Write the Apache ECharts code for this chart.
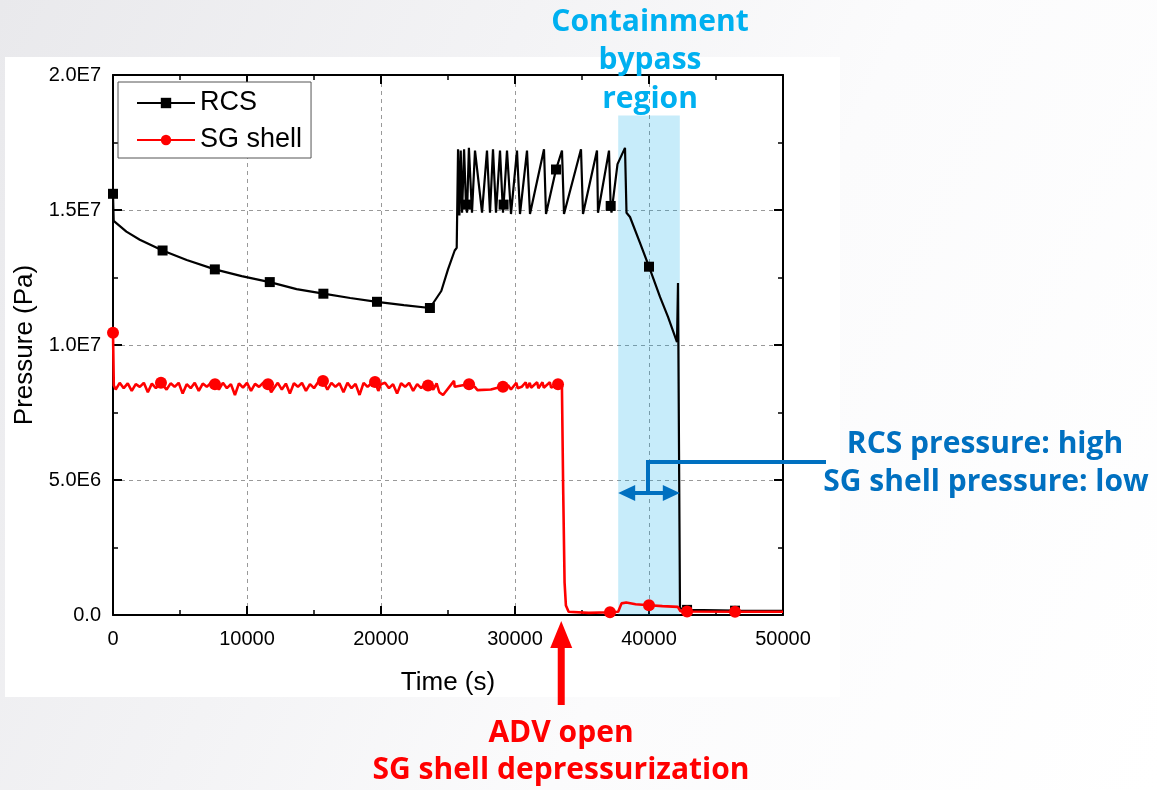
<!DOCTYPE html>
<html>
<head>
<meta charset="utf-8">
<script src="https://cdn.jsdelivr.net/npm/echarts@6/dist/echarts.min.js"></script>
<style>
html,body{margin:0;padding:0;}
body{width:1157px;height:790px;overflow:hidden;position:relative;
 background:linear-gradient(115deg,#e9e9ec 0%,#f3f3f5 35%,#fbfbfc 60%,#ffffff 100%);}
#panel{position:absolute;left:5px;top:57px;width:835px;height:640px;background:#fff;}
#chart{position:absolute;left:0;top:0;width:1157px;height:790px;}
</style>
</head>
<body>
<div id="panel"></div>
<div id="chart"></div>
<script>
// time (s), pressure (x1e6 Pa)
var rcsPoints = [
 [0,15.6],[50,14.6],[1000,14.2],[2000,13.9],[3700,13.5],[5500,13.15],[7600,12.8],[9600,12.55],
 [11700,12.33],[13700,12.07],[15700,11.9],[17700,11.74],[19700,11.6],[21700,11.48],[23650,11.37],
 [24500,12.0],[25000,12.8],[25500,13.5],[25650,13.6],[25750,17.25],[25850,14.8],[25950,17.2],
 [26050,14.9],[26200,17.25],[26340,15.2],[26420,14.9],[26560,17.3],[26790,14.9],[27015,17.2],
 [27540,14.9],[27910,17.2],[28134,14.9],[28358,17.25],[28582,14.9],[28881,17.2],[29104,14.9],
 [29150,15.2],[29403,17.2],[29701,14.85],[30149,17.2],[30373,14.85],[30896,17.2],[31119,14.85],
 [32164,17.25],[32313,14.85],[33060,16.5],[33507,17.2],[33657,14.85],[34925,17.25],[35075,14.85],
 [36119,17.2],[36194,14.9],[37015,17.2],[37140,15.15],[37200,14.9],[37650,16.7],[38209,17.3],
 [38321,14.9],[38582,14.74],[39328,13.78],[40000,12.9],[40821,11.78],[41418,11.04],[42090,10.11],
 [42164,12.3],[42313,0.25],[42400,0.22],[42840,0.19],[46420,0.16],[50000,0.15]
];
var rcsMarkTimes = [0,3700,7600,11700,15700,19700,23650,26340,29150,33060,37140,40000,42840,46420];

var sgPoints = [
 [0,10.45],[60,8.5],[200,8.35],[500,8.6],[800,8.4],[1100,8.58],[1400,8.3],[1700,8.55],[2000,8.45],
 [2300,8.6],[2600,8.25],[2900,8.57],[3200,8.4],[3580,8.6],[4000,8.35],[4300,8.58],[4600,8.45],
 [4900,8.6],[5200,8.2],[5500,8.55],[5800,8.4],[6100,8.6],[6400,8.3],[6700,8.57],[7000,8.45],
 [7300,8.6],[7610,8.55],[7900,8.35],[8200,8.6],[8500,8.4],[8800,8.55],[9100,8.15],[9400,8.58],
 [9700,8.42],[10000,8.6],[10300,8.3],[10600,8.56],[10900,8.45],[11200,8.6],[11570,8.55],
 [11800,8.25],[12000,8.4],[12300,8.6],[12600,8.35],[12900,8.57],[13200,8.2],[13500,8.58],
 [13800,8.45],[14100,8.6],[14400,8.3],[14700,8.55],[15000,8.4],[15300,8.62],[15670,8.67],
 [16000,8.35],[16300,8.6],[16600,8.45],[16900,8.58],[17200,8.25],[17500,8.6],[17800,8.4],
 [18100,8.56],[18400,8.15],[18700,8.6],[19000,8.45],[19300,8.58],[19550,8.63],[19800,8.3],
 [20000,8.55],[20300,8.6],[20600,8.4],[20900,8.55],[21200,8.2],[21500,8.58],[21800,8.45],
 [22100,8.6],[22400,8.3],[22700,8.55],[23000,8.4],[23300,8.58],[23510,8.5],[23900,8.35],
 [24150,8.58],[24350,8.25],[24630,8.15],[25450,8.67],[25500,8.45],[26000,8.5],[26570,8.55],
 [27000,8.45],[27200,8.33],[28200,8.35],[28700,8.42],[29100,8.45],[29500,8.5],[29700,8.35],
 [30100,8.6],[30200,8.4],[30500,8.45],[30800,8.62],[30900,8.4],[31100,8.6],[31200,8.42],
 [31650,8.62],[31750,8.4],[32050,8.62],[32150,8.42],[32600,8.62],[32700,8.42],[33210,8.55],
 [33500,8.55],[33600,4.5],[33700,1.2],[33800,0.35],[34000,0.12],[35500,0.08],[37090,0.1],
 [37700,0.12],[37950,0.43],[38300,0.46],[39000,0.4],[40000,0.36],[41000,0.33],[42150,0.3],
 [42350,0.14],[42840,0.13],[46420,0.12],[50000,0.12]
];
var sgMarkTimes = [0,3580,7610,11570,15670,19550,23510,26570,29100,33210,37090,40000,42840,46420];

var xTicks = [0,10000,20000,30000,40000,50000];
var yTickLabels = ['0.0','5.0E6','1.0E7','1.5E7','2.0E7'];

var bandStart = 37700, bandEnd = 42300, bandTop = 18.5;
var advTime = 33450;

function build_data(points, marks, size)
{
  var out = [];
  for (var i = 0; i < points.length; i++) {
    var on = marks.indexOf(points[i][0]) >= 0;
    out.push({value: points[i], symbolSize: on ? size : 0});
  }
  return out;
}

var myChart = echarts.init(document.getElementById('chart'));
var fontAx = '"Liberation Sans", Arial, sans-serif';
var fontNote = '"Open Sans", "Noto Sans", sans-serif';

function xAxisOpt(top)
{
  return {
    type: 'value', min: 0, max: 50000, interval: 10000,
    position: top ? 'top' : 'bottom',
    axisLine: {onZero: false, lineStyle: {color: '#000', width: 2}},
    axisTick: {inside: true, length: 9, lineStyle: {color: '#000', width: 2}},
    minorTick: {show: true, splitNumber: 2, length: 5, lineStyle: {color: '#000', width: 1.5}},
    axisLabel: {show: !top, margin: 14, fontSize: 20, color: '#000', fontFamily: fontAx,
      formatter: function (v) { return xTicks.indexOf(v) >= 0 ? String(v) : ''; }},
    splitLine: {show: !top, lineStyle: {color: '#999', type: [4, 4], width: 1}},
    name: top ? '' : 'Time (s)', nameLocation: 'middle', nameGap: 55,
    nameTextStyle: {fontSize: 26, color: '#000', fontFamily: fontAx}
  };
}
function yAxisOpt(right)
{
  return {
    type: 'value', min: 0, max: 20, interval: 5,
    position: right ? 'right' : 'left',
    axisLine: {show: true, onZero: false, lineStyle: {color: '#000', width: 2}},
    axisTick: {show: true, inside: true, length: 9, lineStyle: {color: '#000', width: 2}},
    minorTick: {show: true, splitNumber: 2, length: 5, lineStyle: {color: '#000', width: 1.5}},
    axisLabel: {show: !right, margin: 12, fontSize: 20, color: '#000', fontFamily: fontAx,
      formatter: function (v) { return yTickLabels[Math.round(v / 5)]; }},
    splitLine: {show: !right, lineStyle: {color: '#999', type: [4, 4], width: 1}},
    name: right ? '' : 'Pressure (Pa)', nameLocation: 'middle', nameGap: 72,
    nameTextStyle: {fontSize: 26, color: '#000', fontFamily: fontAx}
  };
}

var option = {
  animation: false,
  grid: {left: 113, right: 374, top: 75, bottom: 175},
  legend: {
    data: ['RCS', 'SG shell'], orient: 'vertical', left: 118, top: 82, z: 20,
    borderColor: '#555', borderWidth: 1, backgroundColor: '#fff',
    padding: [6, 9, 3, 18], itemWidth: 58, itemHeight: 13, itemGap: 7,
    textStyle: {fontSize: 27, lineHeight: 30, color: '#000', fontFamily: fontAx}
  },
  xAxis: [xAxisOpt(false), xAxisOpt(true)],
  yAxis: [yAxisOpt(false), yAxisOpt(true)],
  series: [{
    name: 'RCS', type: 'line', z: 3,
    symbol: 'rect', showAllSymbol: true,
    color: '#000', lineStyle: {width: 2.2, color: '#000'}, itemStyle: {color: '#000'},
    data: build_data(rcsPoints, rcsMarkTimes, 10)
  }, {
    name: 'SG shell', type: 'line', z: 4,
    symbol: 'circle', showAllSymbol: true,
    color: '#ff0000', lineStyle: {width: 2.6, color: '#ff0000'}, itemStyle: {color: '#ff0000'},
    data: build_data(sgPoints, sgMarkTimes, 12)
  }, {
    name: 'band', type: 'line', z: 8, data: [],
    markArea: {
      silent: true,
      itemStyle: {color: 'rgba(0,170,230,0.22)'},
      data: [[{coord: [bandStart, 0]}, {coord: [bandEnd, bandTop]}]]
    }
  }]
};
myChart.setOption(option);

function px(t, v) { return myChart.convertToPixel({xAxisIndex: 0, yAxisIndex: 0}, [t, v]); }

function add_notes()
{
  var blue = '#0070C0', cyan = '#00B0F0', red = '#ff0000';
  var L = px(bandStart, 4.52), R = px(bandEnd, 4.52), S = px(39925, 5.67);
  var A = px(advTime, 0);
  var g = [];
  function txt(s, x, y, c) {
    g.push({type: 'text', z: 100, style: {text: s, x: x, y: y, fill: c, align: 'center',
      verticalAlign: 'middle', font: 'bold 30px ' + fontNote}});
  }
  txt('Containment', 650, 22, cyan);
  txt('bypass', 650, 60, cyan);
  txt('region', 650, 99, cyan);
  txt('RCS pressure: high', 985, 444, blue);
  txt('SG shell pressure: low', 986, 482, blue);
  txt('ADV open', 561, 733, red);
  txt('SG shell depressurization', 561, 770, red);

  // bracket + double arrow
  g.push({type: 'polyline', z: 100, shape: {points: [[S[0], L[1]], [S[0], S[1]], [826, S[1]]]},
    style: {stroke: blue, lineWidth: 4, fill: null}});
  g.push({type: 'line', z: 100, shape: {x1: L[0] + 12, y1: L[1], x2: R[0] - 12, y2: R[1]},
    style: {stroke: blue, lineWidth: 4}});
  g.push({type: 'polygon', z: 100, shape: {points: [[L[0], L[1]], [L[0] + 17, L[1] - 8], [L[0] + 17, L[1] + 8]]},
    style: {fill: blue}});
  g.push({type: 'polygon', z: 100, shape: {points: [[R[0], R[1]], [R[0] - 17, R[1] - 8], [R[0] - 17, R[1] + 8]]},
    style: {fill: blue}});

  // ADV arrow
  g.push({type: 'rect', z: 100, shape: {x: A[0] - 3.5, y: A[1] + 30, width: 7, height: 705 - A[1] - 30},
    style: {fill: red}});
  g.push({type: 'polygon', z: 100, shape: {points: [[A[0], A[1] + 6], [A[0] - 11, A[1] + 33], [A[0] + 11, A[1] + 33]]},
    style: {fill: red}});

  myChart.setOption({graphic: g});
}
add_notes();
</script>
</body>
</html>
